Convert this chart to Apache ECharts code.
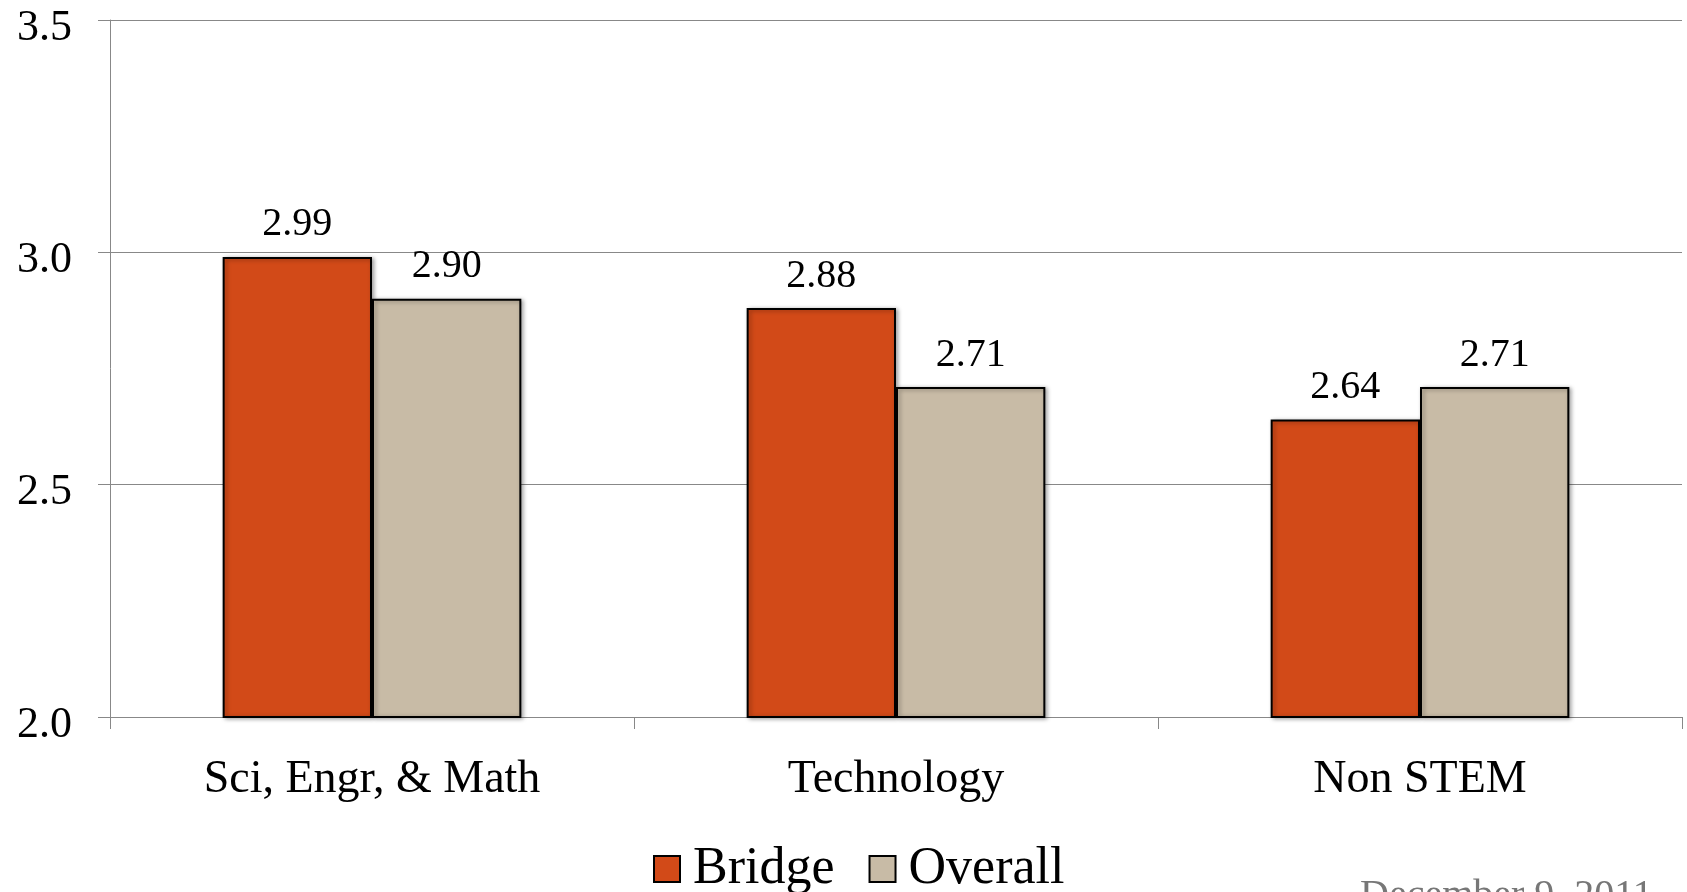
<!DOCTYPE html>
<html>
<head>
<meta charset="utf-8">
<script src="https://cdn.jsdelivr.net/npm/echarts@6/dist/echarts.min.js"></script>
<style>
html,body{margin:0;padding:0;background:#fff;}
#c{width:1687px;height:892px;}
</style>
</head>
<body>
<div id="c"></div>
<script>
const categories = ["Sci, Engr, & Math", "Technology", "Non STEM"];
const bridgeValues = [2.99, 2.88, 2.64];
const overallValues = [2.90, 2.71, 2.71];
const seriesNames = ["Bridge", "Overall"];
const yMin = 2.0, yMax = 3.5, yStep = 0.5;
const footerText = "December 9, 2011";

const serif = '"Liberation Serif", "DejaVu Serif", serif';
const chart = echarts.init(document.getElementById('c'));
const barStyle = (color) => ({
  color: color,
  borderColor: '#000',
  borderWidth: 2,
  shadowColor: 'rgba(0,0,0,0.35)',
  shadowBlur: 4,
  shadowOffsetX: 2,
  shadowOffsetY: 1
});
const labelStyle = {
  show: true,
  position: 'top',
  distance: 12,
  color: '#000',
  fontFamily: serif,
  fontSize: 40,
  formatter: (p) => p.value.toFixed(2)
};
chart.setOption({
  animation: false,
  backgroundColor: '#fff',
  grid: {left: 110, right: 5, top: 20, bottom: 175},
  legend: {
    data: seriesNames,
    left: 648,
    top: 838,
    itemWidth: 26,
    itemHeight: 26,
    itemGap: 34,
    textStyle: {fontFamily: serif, fontSize: 52, color: '#000', padding: [0,0,0,8]},
    icon: 'rect'
  },
  xAxis: {
    type: 'category',
    data: categories,
    axisLine: {lineStyle: {color: '#888', width: 1}},
    axisTick: {show: true, length: 12, lineStyle: {color: '#888'}},
    axisLabel: {fontFamily: serif, fontSize: 46, color: '#000', margin: 40}
  },
  yAxis: {
    type: 'value',
    min: yMin, max: yMax, interval: yStep,
    axisLine: {show: true, lineStyle: {color: '#888', width: 1}},
    axisTick: {show: true, length: 12, lineStyle: {color: '#888'}},
    splitLine: {lineStyle: {color: '#888', width: 1}},
    axisLabel: {fontFamily: serif, fontSize: 44, color: '#000', margin: 38,
      verticalAlign: 'top', lineHeight: 16,
      formatter: (v) => v.toFixed(1)}
  },
  series: [
    {name: seriesNames[0], type: 'bar', data: bridgeValues, barGap: '0%', barCategoryGap: '43%',
     itemStyle: barStyle('#D24A18'), label: labelStyle},
    {name: seriesNames[1], type: 'bar', data: overallValues, barGap: '0%', barCategoryGap: '43%',
     itemStyle: barStyle('#C8BBA6'), label: labelStyle}
  ],
  graphic: [{
    type: 'text', left: 1360, top: 876,
    style: {text: footerText, fontFamily: serif, fontSize: 40, fill: '#777'}
  }]
});
</script>
</body>
</html>
